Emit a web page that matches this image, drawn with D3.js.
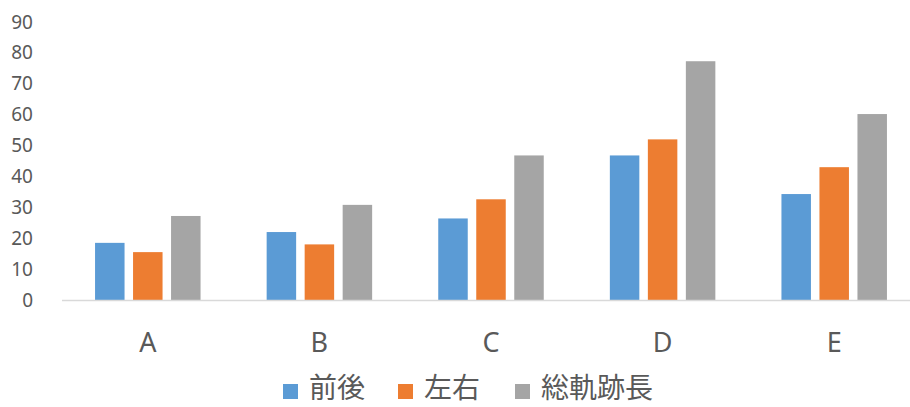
<!DOCTYPE html>
<html>
<head>
<meta charset="utf-8">
<script src="https://cdn.jsdelivr.net/npm/d3@7"></script>
<style>
  html, body { margin: 0; padding: 0; background: #ffffff; }
  svg { display: block; }
</style>
</head>
<body>
<svg id="chart" width="910" height="407"></svg>
<script>
// ---- data ----
const categories = ["A", "B", "C", "D", "E"];
const seriesNames = ["前後", "左右", "総軌跡長"];
const seriesColors = ["#5B9BD5", "#ED7D31", "#A5A5A5"];
const valuesFrontBack = [18.5, 22.0, 26.4, 46.8, 34.3];
const valuesLeftRight = [15.5, 18.0, 32.6, 52.0, 43.0];
const valuesTotalPath = [27.2, 30.8, 46.8, 77.3, 60.2];
const yTicks = [0, 10, 20, 30, 40, 50, 60, 70, 80, 90];

const seriesValues = [valuesFrontBack, valuesLeftRight, valuesTotalPath];

// ---- layout ----
const svg = d3.select("#chart");
const W = 910, H = 407;
const plotLeft = 62, plotRight = 920, plotTop = 22, plotBottom = 300;
const textColor = "#595959";
const latinFont = "'Noto Sans', 'Open Sans', sans-serif";
const cjkFont = "'Noto Sans CJK JP', 'Noto Sans', sans-serif";

const x0 = d3.scaleBand().domain(categories).range([plotLeft, plotRight]).padding(0);
const groupInner = 105.5;
const x1 = d3.scaleBand().domain(d3.range(seriesNames.length))
  .range([(x0.bandwidth() - groupInner) / 2, (x0.bandwidth() + groupInner) / 2])
  .paddingInner(0.224).paddingOuter(0);
const y = d3.scaleLinear().domain([0, 90]).range([plotBottom, plotTop]);

// y axis labels (no line, no ticks)
const yAxis = d3.axisLeft(y).tickValues(yTicks).tickSize(0).tickPadding(0).tickFormat(d3.format("d"));
const yg = svg.append("g").attr("transform", `translate(33,0)`).call(yAxis);
yg.select(".domain").remove();
yg.selectAll("text")
  .attr("fill", textColor)
  .style("font-family", latinFont)
  .style("font-size", "19px");

// bars
const groups = svg.append("g").selectAll("g")
  .data(categories)
  .join("g")
  .attr("transform", d => `translate(${x0(d)},0)`);

groups.selectAll("rect")
  .data((c, ci) => seriesValues.map((vals, si) => ({ si, v: vals[ci] })))
  .join("rect")
  .attr("x", d => x1(d.si))
  .attr("width", x1.bandwidth())
  .attr("y", d => y(d.v))
  .attr("height", d => y(0) - y(d.v))
  .attr("fill", d => seriesColors[d.si]);

// x axis
const xAxis = d3.axisBottom(x0).tickSize(0).tickPadding(0);
const xg = svg.append("g").attr("transform", `translate(0,${plotBottom})`).call(xAxis);
xg.select(".domain").remove();
xg.selectAll("text")
  .attr("fill", textColor)
  .attr("dy", null)
  .attr("y", 52)
  .style("font-family", latinFont)
  .style("font-size", "27px");

svg.append("line")
  .attr("x1", plotLeft).attr("x2", W)
  .attr("y1", y(0) + 0.5).attr("y2", y(0) + 0.5)
  .attr("stroke", "#D9D9D9").attr("stroke-width", 1.5);

// legend
const legendSquareX = [283, 398, 515];
const legend = svg.append("g");
seriesNames.forEach((name, i) => {
  legend.append("rect")
    .attr("x", legendSquareX[i]).attr("y", 384)
    .attr("width", 15).attr("height", 15)
    .attr("fill", seriesColors[i]);
  legend.append("text")
    .attr("x", legendSquareX[i] + 26).attr("y", 398)
    .attr("fill", textColor)
    .style("font-family", cjkFont)
    .style("font-size", "28px")
    .text(name);
});
</script>
</body>
</html>
